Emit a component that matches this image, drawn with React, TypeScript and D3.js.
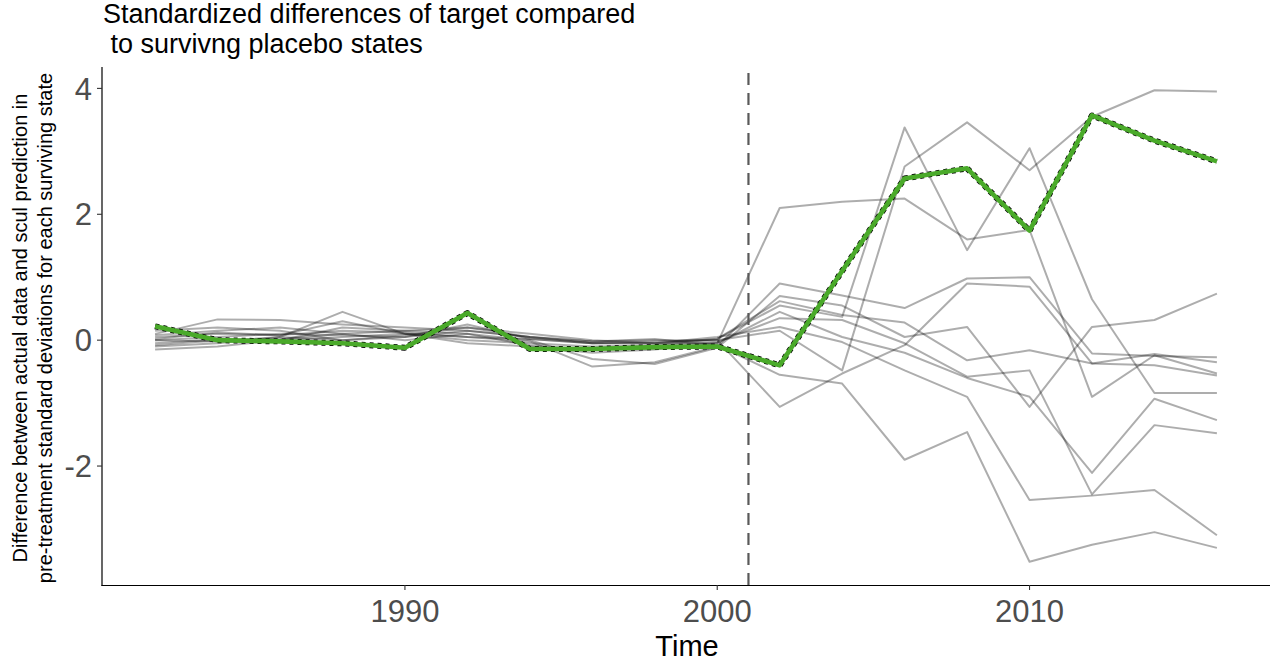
import React, { useEffect } from 'react';
import * as d3 from 'd3';

// years sampled every two years
const years = d3.range(1982, 2017, 2);

// target state (green, drawn over a black dashed line)
const target = [0.22, 0.0, -0.02, -0.05, -0.12, 0.43, -0.14, -0.14, -0.11, -0.1,
  -0.4, 1.1, 2.57, 2.73, 1.74, 3.57, 3.17, 2.84];

// surviving placebo states
const placeboG1 = [0.05, 0.1, 0.08, 0.15, 0.12, 0.05, 0.02, -0.05, -0.02, 0.0,
  0.15, -0.48, 2.76, 3.46, 2.7, 3.55, 3.97, 3.95];
const placeboP = [-0.05, 0.02, 0.0, 0.05, 0.1, 0.0, -0.05, -0.1, -0.08, 0.02,
  0.55, 0.37, 3.38, 1.43, 3.05, 0.65, -0.84, -0.84];
const placeboA = [0.1, 0.33, 0.32, 0.25, 0.2, 0.15, 0.05, -0.05, -0.05, -0.05,
  2.1, 2.2, 2.25, 1.6, 1.75, -0.9, -0.24, -0.53];
const placeboLa = [-0.1, -0.05, 0.05, 0.45, 0.1, 0.05, -0.02, -0.42, -0.35, -0.1,
  0.9, 0.71, 0.51, 0.98, 1.0, -0.21, -0.25, -0.27];
const placeboLb = [0.15, 0.2, 0.15, 0.0, 0.08, 0.2, 0.05, -0.02, 0.0, 0.0,
  -1.06, -0.53, -0.08, 0.9, 0.85, -0.37, -0.4, -0.56];
const placeboF = [-0.15, -0.1, 0.0, 0.2, 0.15, 0.1, 0.0, -0.3, -0.38, -0.12,
  0.7, 0.55, 0.05, 0.21, -1.06, 0.21, 0.32, 0.74];
const placeboH = [0.0, 0.05, 0.1, 0.08, 0.05, 0.25, 0.02, -0.05, -0.05, 0.02,
  0.62, 0.4, 0.28, -0.32, -0.16, -0.37, -0.22, -0.35];
const placeboM1 = [0.02, 0.12, 0.08, 0.3, 0.1, -0.05, -0.1, -0.2, -0.15, -0.05,
  0.45, 0.05, -0.2, -0.6, -0.9, -2.11, -0.93, -1.27];
const placeboM2 = [-0.08, 0.0, 0.02, 0.1, 0.0, 0.1, -0.08, -0.15, -0.1, -0.03,
  0.35, 0.32, -0.05, -0.58, -0.48, -2.45, -1.35, -1.48];
const placeboE = [0.08, 0.15, 0.2, 0.1, 0.15, 0.2, 0.1, 0.0, -0.05, 0.05,
  0.21, -0.03, -0.48, -0.9, -2.54, -2.47, -2.38, -3.1];
const placeboD = [0.0, -0.02, 0.05, 0.0, 0.05, 0.15, 0.05, -0.02, 0.02, -0.08,
  -0.55, -0.69, -1.9, -1.46, -3.52, -3.25, -3.05, -3.3];

const placebos = [placeboG1, placeboP, placeboA, placeboLa, placeboLb, placeboF,
  placeboH, placeboM1, placeboM2, placeboE, placeboD];

const treatmentYear = 2001;
const xTicks = [1990, 2000, 2010];
const yTicks = [-2, 0, 2, 4];

const W = 1270;
const H = 664;
const FONT = '"Liberation Sans", Arial, Helvetica, sans-serif';

export default function App() {
  useEffect(() => {
    document.body.style.margin = '0';
  }, []);

  const x = d3.scaleLinear().domain([1980.3, 2017.7]).range([102, 1270]);
  const y = d3.scaleLinear().domain([-3.89, 4.34]).range([585, 67]);

  const line = d3.line<number>()
    .x((_, i) => x(years[i]))
    .y(d => y(d));

  return (
    <svg width={W} height={H} style={{ display: 'block', fontFamily: FONT }}>
      <rect width={W} height={H} fill="#fff" />

      {/* title */}
      <text x={103} y={23} fontSize={27} fill="#000">Standardized differences of target compared</text>
      <text x={103} y={53} fontSize={27} fill="#000" style={{ whiteSpace: 'pre' }}>{' to survivng placebo states'}</text>

      {/* placebo lines */}
      {placebos.map((s, i) => (
        <path key={i} d={line(s) || ''} fill="none" stroke="#000" strokeOpacity={0.32}
          strokeWidth={2} strokeLinejoin="round" />
      ))}

      {/* treatment marker */}
      <line x1={x(treatmentYear)} x2={x(treatmentYear)} y1={73} y2={585}
        stroke="#595959" strokeWidth={2.2} strokeDasharray="12,8" />

      {/* target */}
      <path d={line(target) || ''} fill="none" stroke="#000" strokeWidth={6}
        strokeDasharray="4,4" strokeLinejoin="round" />
      <path d={line(target) || ''} fill="none" stroke="#4aaa2a" strokeWidth={4.6}
        strokeLinejoin="round" />

      {/* axes */}
      <line x1={102} x2={102} y1={67} y2={586} stroke="#000" strokeWidth={1.2} />
      <line x1={101.5} x2={1270} y1={585.5} y2={585.5} stroke="#000" strokeWidth={1.2} />
      {yTicks.map(t => (
        <g key={t}>
          <line x1={97} x2={102} y1={y(t)} y2={y(t)} stroke="#333" strokeWidth={1.1} />
          <text x={92} y={y(t)} dy="0.36em" textAnchor="end" fontSize={31} fill="#4d4d4d">
            {t}
          </text>
        </g>
      ))}
      {xTicks.map(t => (
        <g key={t}>
          <line x1={x(t)} x2={x(t)} y1={585} y2={590} stroke="#333" strokeWidth={1.1} />
          <text x={x(t)} y={622} textAnchor="middle" fontSize={31} fill="#4d4d4d">{t}</text>
        </g>
      ))}

      {/* axis titles */}
      <text x={687} y={656} textAnchor="middle" fontSize={29} fill="#000">Time</text>
      <g transform="translate(27,328) rotate(-90)">
        <text x={0} y={0} textAnchor="middle" fontSize={20} fill="#000">
          Difference between actual data and scul prediction in
        </text>
        <text x={0} y={25} textAnchor="middle" fontSize={20} fill="#000">
          pre-treatment standard deviations for each surviving state
        </text>
      </g>
    </svg>
  );
}
